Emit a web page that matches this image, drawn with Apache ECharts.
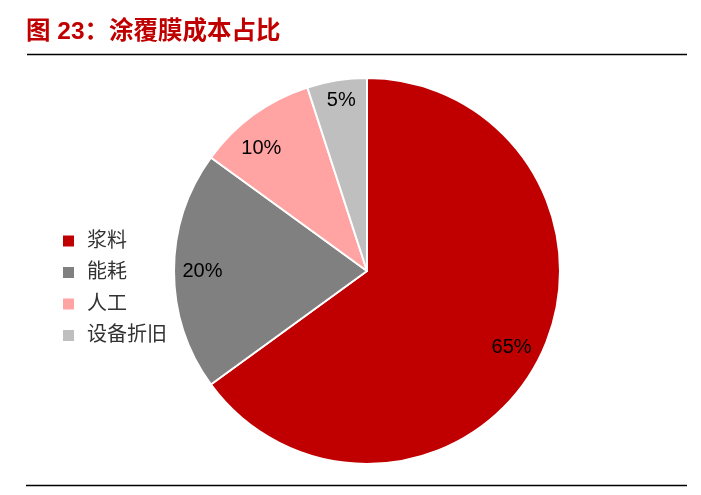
<!DOCTYPE html>
<html>
<head>
<meta charset="utf-8">
<script src="https://cdn.jsdelivr.net/npm/echarts@6/dist/echarts.min.js"></script>
<style>
html,body{margin:0;padding:0;background:#fff;}
#chart{width:701px;height:495px;}
</style>
</head>
<body>
<div id="chart"></div>
<script>
var titleText = '图 23：涂覆膜成本占比';
var categories = ['浆料', '能耗', '人工', '设备折旧'];
var values = [65, 20, 10, 5];
var colors = ['#C00000', '#808080', '#FFA3A3', '#BFBFBF'];

var chart = echarts.init(document.getElementById('chart'));
var cjk = '"Liberation Sans", Arial, "Noto Sans CJK SC", sans-serif';

var pieData = categories.map(function (c, i) {
  return { name: c, value: values[i], itemStyle: { color: colors[i] } };
});
var labelData = categories.map(function (c, i) {
  return { name: c, value: values[i] };
});
var labelShift = [[-2, 2], [0, 0], [-9, 11], [0, -8]];

chart.setOption({
  animation: false,
  title: {
    text: titleText,
    left: 21,
    top: 15,
    textStyle: { color: '#C00000', fontSize: 24.5, fontWeight: 'bold', fontFamily: cjk }
  },
  legend: {
    orient: 'vertical',
    left: 58,
    top: 226,
    padding: 5,
    itemWidth: 11,
    itemHeight: 11,
    itemGap: 11.5,
    icon: 'rect',
    data: categories,
    itemStyle: { borderWidth: 0 },
    textStyle: { fontSize: 20, color: '#333', fontFamily: cjk, padding: [0, 0, 0, 8] }
  },
  graphic: [
    { type: 'line', shape: { x1: 27, y1: 54.5, x2: 687, y2: 54.5 }, style: { stroke: '#000', lineWidth: 1.6 }, silent: true },
    { type: 'line', shape: { x1: 26, y1: 485.5, x2: 687, y2: 485.5 }, style: { stroke: '#000', lineWidth: 1.6 }, silent: true }
  ],
  series: [
    {
      type: 'pie',
      center: [367, 271],
      radius: [0, 193],
      startAngle: 90,
      clockwise: true,
      data: pieData,
      label: { show: false },
      labelLine: { show: false },
      itemStyle: { borderColor: '#fff', borderWidth: 2 },
      emphasis: { disabled: true }
    },
    {
      type: 'pie',
      center: [367, 271],
      radius: [130, 193],
      startAngle: 90,
      clockwise: true,
      silent: true,
      data: labelData,
      legendHoverLink: false,
      itemStyle: { color: 'rgba(0,0,0,0)' },
      label: {
        show: true,
        position: 'inside',
        formatter: '{c}%',
        color: '#000',
        fontSize: 20,
        fontFamily: cjk
      },
      labelLayout: function (p) {
        var s = labelShift[p.dataIndex] || [0, 0];
        return { dx: s[0], dy: s[1] };
      },
      labelLine: { show: false },
      emphasis: { disabled: true }
    }
  ]
});
</script>
</body>
</html>
